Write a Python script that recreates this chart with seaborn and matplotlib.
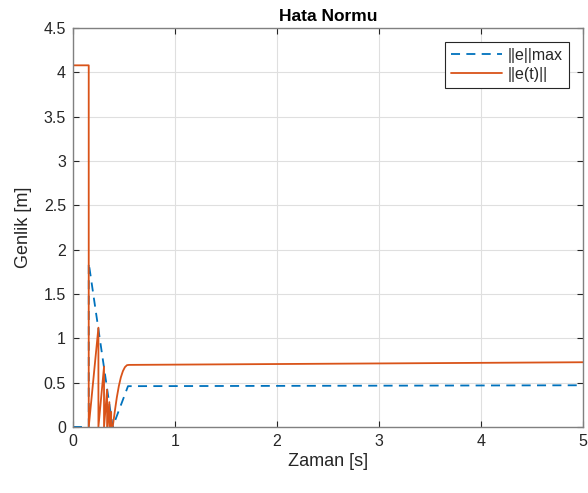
import pandas as pd
import seaborn as sns
import matplotlib.pyplot as plt

# ||e||max (dashed blue)
t_max = [0, 0.155, 0.155, 0.39, 0.54, 5.0]
e_max = [0, 0, 1.85, 0, 0.46, 0.47]

# ||e(t)|| (orange)
t_err = [0, 0.155, 0.155, 0.25, 0.25, 0.305, 0.305, 0.335, 0.335, 0.357, 0.357,
         0.375, 0.375, 0.39, 0.41, 0.43, 0.45, 0.47, 0.49, 0.51, 0.53, 0.55, 5.0]
e_err = [4.08, 4.08, 0, 1.12, 0, 0.68, 0, 0.42, 0, 0.28, 0,
         0.17, 0, 0.0, 0.17, 0.33, 0.46, 0.56, 0.63, 0.675, 0.697, 0.70, 0.73]

sns.set_style("whitegrid")
plt.rcParams['font.family'] = ['Liberation Sans', 'DejaVu Sans']

fig = plt.figure(figsize=(5.88, 4.93), dpi=100)
ax = fig.add_axes([0.124, 0.134, 0.8675, 0.809])

df_max = pd.DataFrame({'t': t_max, 'v': e_max})
df_err = pd.DataFrame({'t': t_err, 'v': e_err})
sns.lineplot(data=df_max, x='t', y='v', sort=False, estimator=None, ax=ax,
             color='#0072BD', linewidth=1.3, label='||e||max',
             dashes=False, linestyle=(0, (5, 3.5)))
sns.lineplot(data=df_err, x='t', y='v', sort=False, estimator=None, ax=ax,
             color='#D95319', linewidth=1.3, label='||e(t)||')

ax.set_xlim(0, 5)
ax.set_ylim(0, 4.5)
ax.set_xticks([0, 1, 2, 3, 4, 5])
ax.set_yticks([0, 0.5, 1, 1.5, 2, 2.5, 3, 3.5, 4, 4.5])
ax.set_yticklabels(['0', '0.5', '1', '1.5', '2', '2.5', '3', '3.5', '4', '4.5'])
ax.grid(True, color='#dfdfdf', linewidth=0.8)
for s in ax.spines.values():
    s.set_color('#808080')
    s.set_linewidth(1.0)
ax.tick_params(direction='in', length=4, labelsize=11.5, colors='#262626',
               top=True, right=True, bottom=True, left=True, pad=5)
ax.set_xlabel('Zaman [s]', fontsize=13, color='#262626', labelpad=3)
ax.set_ylabel('Genlik [m]', fontsize=13, color='#262626', labelpad=8)
ax.set_title('Hata Normu', fontsize=12.5, fontweight='bold', color='black', pad=5)

leg = ax.legend(loc='upper right', fontsize=11.5, fancybox=False, framealpha=1,
                edgecolor='#262626', handlelength=3.2, borderpad=0.35,
                labelspacing=0.25, handletextpad=0.4, borderaxespad=0.9)
leg.get_frame().set_linewidth(0.8)

fig.savefig('out.png', dpi=100)
